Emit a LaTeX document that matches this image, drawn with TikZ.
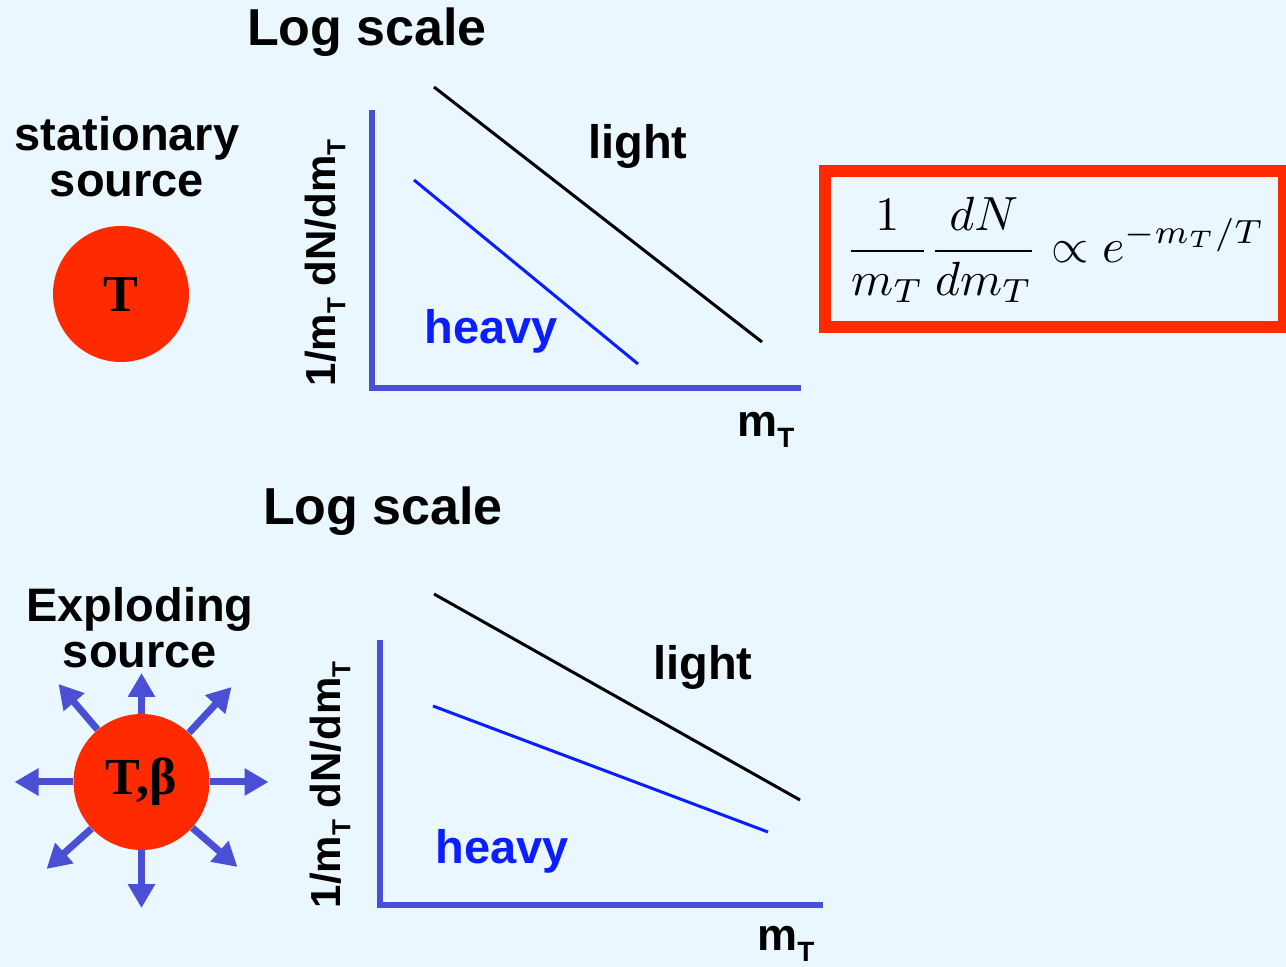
\documentclass[tikz,border=0pt]{standalone}
\usepackage{graphicx}
\usepackage{fontspec}
\setmainfont{Liberation Sans}
\newfontfamily\srcfont{Liberation Serif}
\usetikzlibrary{positioning, arrows.meta, calc}

\definecolor{bgcyan}{HTML}{EAF7FE}
\definecolor{axisblue}{HTML}{4A4FD6}
\definecolor{srcred}{HTML}{FF2A00}
\definecolor{heavyblue}{HTML}{0A1EFF}
\newcommand{\subT}{\raisebox{-0.24em}{\scalebox{0.62}{T}}}

\begin{document}
\begin{tikzpicture}[
  x=0.5pt, y=-0.5pt,
  title/.style={font=\fontsize{26}{28}\selectfont\bfseries},
  lbl/.style  ={font=\fontsize{23.5}{23}\selectfont\bfseries, align=center},
  ylbl/.style ={font=\fontsize{21}{24}\selectfont\bfseries, rotate=90},
  mlbl/.style ={font=\fontsize{22.5}{24}\selectfont\bfseries},
  axis/.style ={draw=axisblue, line width=3pt},
  spec/.style ={line width=1.5pt},
  src/.style  ={circle, fill=srcred, minimum size=68pt, inner sep=0pt,
                font=\srcfont\bfseries\fontsize{26}{28}\selectfont},
  burst/.style={draw=axisblue, line width=3.5pt, -{Triangle[length=12pt, width=13pt]}},
  law/.style  ={draw=srcred, line width=6pt, minimum width=229.5pt, minimum height=78pt},
]
\useasboundingbox (0,0) rectangle (1286,967);
\fill[bgcyan] (0,0) rectangle (1286,967);

% stationary source
\node[title] (title1) at (367,32) {Log scale};
\node[lbl]   (stat)   at (127,157) {stationary\\source};
\node[src]   (src1)   at (121,294) {T};
\node[ylbl]  (ylab1)  at (325,263) {1/m\subT{} dN/dm\subT};
\coordinate (top1) at (372,110);
\coordinate (org1) at (372,388);
\coordinate (end1) at (801,388);
\draw[axis] (top1) -- (org1) -- (end1);
\draw[spec] (434,87) coordinate (lA1) -- (762,342) coordinate (lB1);
\draw[spec, heavyblue] (414,180) coordinate (hA1) -- (638,364) coordinate (hB1);
\node[lbl] (light1) at (638,146) {light};
\node[lbl, text=heavyblue] (heavy1) at (491,331) {heavy};
\node[mlbl] (mt1) at (766,430) {m\subT};
\node[law] (law) at (1054.5,249) {};
\node (lawtxt) at (1055,250)
  {\scalebox{2.4}{$\displaystyle \frac{1}{m_T}\frac{dN}{dm_T}\propto e^{-m_T/T}$}};

% exploding source
\node[title] (title2) at (383,511) {Log scale};
\node[lbl]   (expl)   at (140,628) {Exploding\\source};
\node[src]   (src2)   at (141.5,782) {T,β};
\foreach \a/\dx/\dy [count=\i] in {0/127/0, 46/90/-95, 90/0/-109, 130/-83/-98,
                                   180/-127/0, 223/-95/87, 270/0/126, 318/96/85} {
  \coordinate (tip\i) at ($(src2.center)+(\dx,\dy)$);
  \draw[burst] (src2.\a) -- (tip\i);
}
\node[ylbl]  (ylab2)  at (330,785) {1/m\subT{} dN/dm\subT};
\coordinate (top2) at (380,640);
\coordinate (org2) at (380,905);
\coordinate (end2) at (823,905);
\draw[axis] (top2) -- (org2) -- (end2);
\draw[spec] (434,594) coordinate (lA2) -- (800,800) coordinate (lB2);
\draw[spec, heavyblue] (433,706) coordinate (hA2) -- (768,832) coordinate (hB2);
\node[lbl] (light2) at (703,667) {light};
\node[lbl, text=heavyblue] (heavy2) at (502,851) {heavy};
\node[mlbl] (mt2) at (786,944) {m\subT};
\end{tikzpicture}
\end{document}
